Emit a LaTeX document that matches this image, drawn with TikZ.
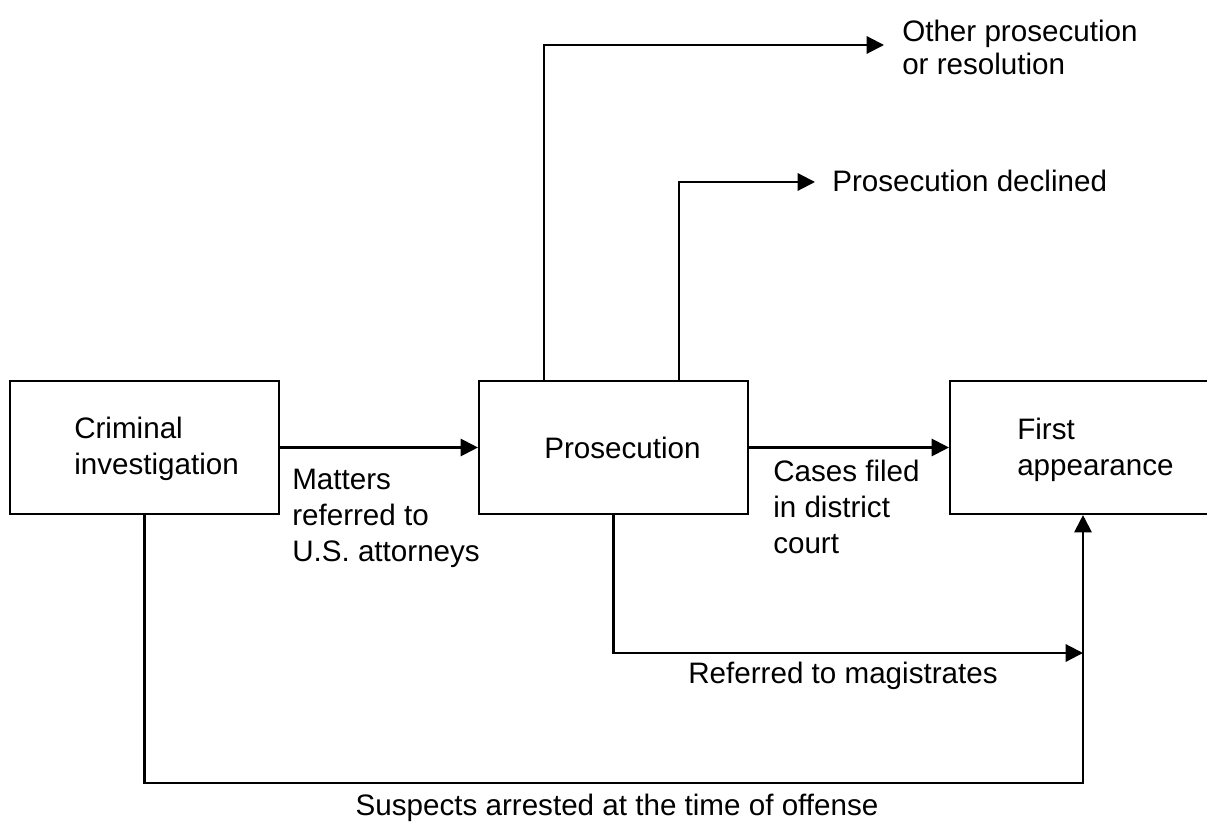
\documentclass[tikz,border=0pt]{standalone}
\usepackage{fontspec}
\setmainfont{Liberation Sans}
\usetikzlibrary{arrows.meta,calc}
\begin{document}
\begin{tikzpicture}[x=0.75pt,y=-0.75pt,
  box/.style={draw, line width=1.6pt, minimum width=201.75pt, minimum height=99.75pt, inner sep=0pt},
  lbl/.style={inner sep=0pt, align=left, font=\fontsize{22.2pt}{27pt}\selectfont},
  arr/.style={line width=1.6pt, -{Triangle[length=13pt,width=13pt]}}]
\useasboundingbox (0,0) rectangle (1207,823);
\clip (0,0) rectangle (1207,823);
% boxes
\node[box] (ci) at (144.5,447.5) {};
\node[box] (pr) at (613.5,447.5) {};
\node[box, minimum width=198.75pt] (fa) at (1082.5,447.5) {};
% box texts
\node[lbl, anchor=north west] (ciT) at (74,417) {Criminal\\investigation};
\node[lbl, anchor=north west] (prT) at (544,437) {Prosecution};
\node[lbl, anchor=north west] (faT) at (1017,418) {First\\appearance};
% edge labels
\node[lbl, anchor=north west] (matT) at (292,469) {Matters\\referred to\\U.S. attorneys};
\node[lbl, anchor=north west] (casT) at (773,460) {Cases filed\\in district\\court};
\node[lbl, anchor=north west, font=\fontsize{22.2pt}{24.75pt}\selectfont] (othT) at (902,20) {Other prosecution\\or resolution};
\node[lbl, anchor=base west] (decT) at (832,192) {Prosecution declined};
\node[lbl, anchor=base] (magT) at (843,683) {Referred to magistrates};
\node[lbl, anchor=base] (susT) at (617,815) {Suspects arrested at the time of offense};
% connectors
\draw[arr] (ci) -- (pr);
\draw[arr] (pr) -- (fa);
\coordinate (oTip) at (884,45);
\draw[arr] ($(pr.north west)+(66,0)$) |- (oTip);
\coordinate (dTip) at (815,182);
\draw[arr] ($(pr.north west)+(201,0)$) |- (dTip);
\coordinate (mTip) at (1083,653);
\draw[arr] (pr.south) |- (mTip);
\coordinate (sCorner) at (1083,783);
\draw[arr] (ci.south) |- (sCorner) -- (sCorner |- fa.south);
\end{tikzpicture}
\end{document}
